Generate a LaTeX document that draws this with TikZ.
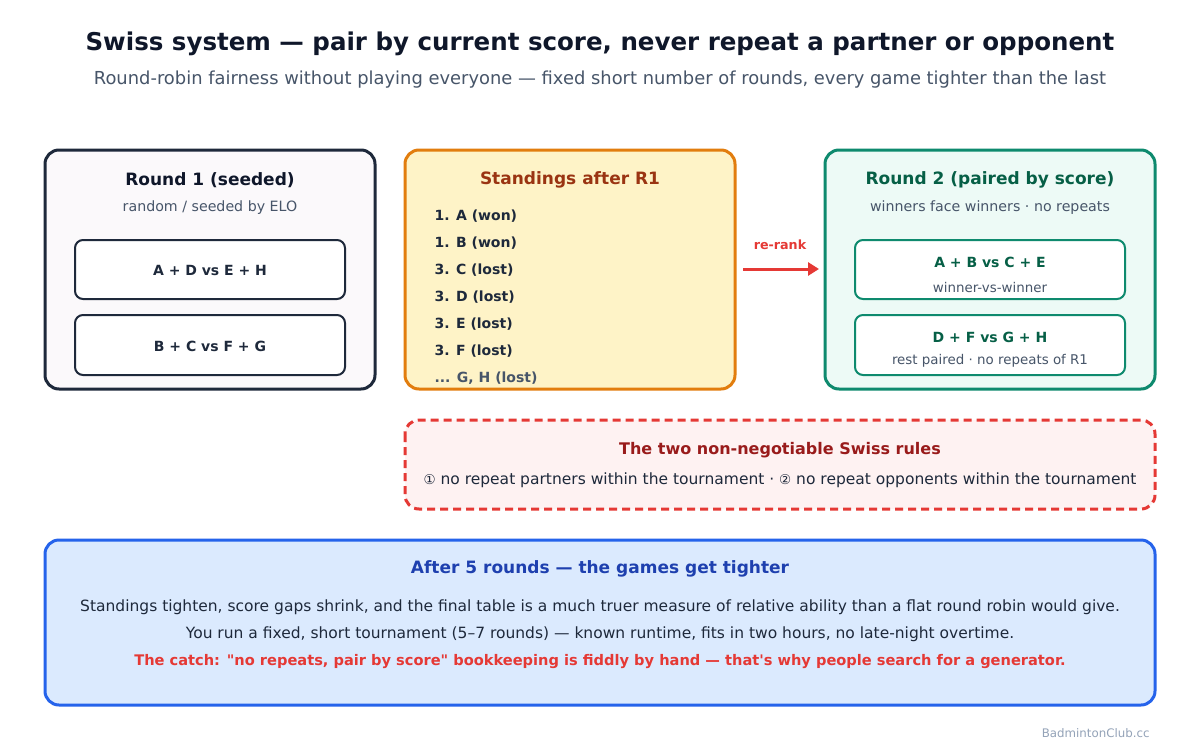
\documentclass[tikz,border=0pt]{standalone}
\usepackage{fontspec}
\setmainfont{DejaVu Sans}
\usetikzlibrary{arrows.meta}
\newcommand\dq{{\XeTeXglyph\XeTeXcharglyph"22\relax}}
\newcommand\sq{{\XeTeXglyph\XeTeXcharglyph"27\relax}}
\definecolor{navy}{HTML}{0F172A}
\definecolor{ink}{HTML}{1E293B}
\definecolor{grey}{HTML}{475569}
\definecolor{boxafill}{HTML}{FBF9FB}
\definecolor{orng}{HTML}{E27D0E}
\definecolor{orngfill}{HTML}{FEF3C7}
\definecolor{brown}{HTML}{9A3412}
\definecolor{grn}{HTML}{0E8A6E}
\definecolor{grnfill}{HTML}{EDFAF6}
\definecolor{dgrn}{HTML}{065F46}
\definecolor{rd}{HTML}{E53935}
\definecolor{rdfill}{HTML}{FEF2F2}
\definecolor{drd}{HTML}{991B1B}
\definecolor{blu}{HTML}{2563EB}
\definecolor{blufill}{HTML}{DBEAFE}
\definecolor{dblu}{HTML}{1E40AF}
\definecolor{foot}{HTML}{94A3B8}
\tikzset{
  outer/.style={rounded corners=14pt, line width=3pt},
  inner/.style={rounded corners=8pt, line width=2pt, fill=white},
  ttl/.style={font=\bfseries\fontsize{17}{21}\selectfont, anchor=center},
  sub/.style={font=\fontsize{14.2}{17}\selectfont, text=grey, anchor=center},
  pair/.style={font=\bfseries\fontsize{14}{17}\selectfont, anchor=center},
  note/.style={font=\fontsize{13.4}{16}\selectfont, text=grey, anchor=center},
  item/.style={font=\bfseries\fontsize{14}{17}\selectfont, text=ink, anchor=west},
  body/.style={font=\fontsize{15.5}{18}\selectfont, text=ink, anchor=center},
}
\begin{document}
\begin{tikzpicture}[x=1pt,y=-1pt]
\useasboundingbox (0,0) rectangle (1200,750);
\fill[white] (0,0) rectangle (1200,750);
% title
\node[font=\bfseries\fontsize{24.5}{30}\selectfont, text=navy] (title) at (600,44) {Swiss system — pair by current score, never repeat a partner or opponent};
\node[font=\fontsize{17.9}{22}\selectfont, text=grey] (subtitle) at (600,80) {Round-robin fairness without playing everyone — fixed short number of rounds, every game tighter than the last};
% box 1
\draw[outer, draw=ink, fill=boxafill] (45,150) rectangle (375,389);
\node[ttl, text=navy] (r1t) at (210,180) {Round 1 (seeded)};
\node[sub] (r1s) at (210,208) {random / seeded by ELO};
\draw[inner, draw=ink] (75,240) rectangle (345,299);
\node[pair, text=ink] (m1) at (210,270) {A + D vs E + H};
\draw[inner, draw=ink] (75,315) rectangle (345,375);
\node[pair, text=ink] (m2) at (210,346) {B + C vs F + G};
% box 2
\draw[outer, draw=orng, fill=orngfill] (405,150) rectangle (735,389);
\node[ttl, text=brown] (st) at (570,180) {Standings after R1};
\node[item] (s1) at (431,216) {1. A (won)};
\node[item] (s2) at (431,243) {1. B (won)};
\node[item] (s3) at (431,270) {3. C (lost)};
\node[item] (s4) at (431,297) {3. D (lost)};
\node[item] (s5) at (431,324) {3. E (lost)};
\node[item] (s6) at (431,351) {3. F (lost)};
\node[item, text=grey] (s7) at (431,378) {... G, H (lost)};
% arrow
\coordinate (aS) at (743,269);
\coordinate (aE) at (819,269);
\draw[rd, line width=3pt, -{Triangle[length=11pt,width=13pt]}] (aS) -- (aE);
\node[font=\bfseries\fontsize{12.7}{15}\selectfont, text=rd] (rr) at (780,245) {re-rank};
% box 3
\draw[outer, draw=grn, fill=grnfill] (825,150) rectangle (1155,389);
\node[ttl, text=dgrn] (r2t) at (990,180) {Round 2 (paired by score)};
\node[sub] (r2s) at (990,208) {winners face winners · no repeats};
\draw[inner, draw=grn] (855,240) rectangle (1125,299);
\node[pair, text=dgrn] (n1) at (990,262) {A + B vs C + E};
\node[note] (n1s) at (990,287) {winner-vs-winner};
\draw[inner, draw=grn] (855,315) rectangle (1125,375);
\node[pair, text=dgrn] (n2) at (990,337) {D + F vs G + H};
\node[note] (n2s) at (990,361) {rest paired · no repeats of R1};
% rules
\draw[rounded corners=14pt, line width=3pt, draw=rd, fill=rdfill, dash pattern=on 8pt off 5pt] (405,420) rectangle (1155,509);
\node[font=\bfseries\fontsize{16}{20}\selectfont, text=drd] (rt) at (780,450) {The two non-negotiable Swiss rules};
\node[body] (rl) at (780,480) {{\fontsize{13.5}{16}\selectfont ①} no repeat partners within the tournament · {\fontsize{13.5}{16}\selectfont ②} no repeat opponents within the tournament};
% bottom
\draw[outer, draw=blu, fill=blufill] (45,540) rectangle (1155,705);
\node[ttl, text=dblu] (bt) at (600,569) {After 5 rounds — the games get tighter};
\node[body] (b1) at (600,607) {Standings tighten, score gaps shrink, and the final table is a much truer measure of relative ability than a flat round robin would give.};
\node[body] (b2) at (600,634) {You run a fixed, short tournament (5–7 rounds) — known runtime, fits in two hours, no late-night overtime.};
\node[body, font=\bfseries\fontsize{14.6}{17}\selectfont, text=rd] (b3) at (600,662) {The catch: \dq no repeats, pair by score\dq\ bookkeeping is fiddly by hand — that\sq s why people search for a generator.};
\node[font=\fontsize{11.8}{14}\selectfont, text=foot, anchor=east] (ft) at (1153,733) {BadmintonClub.cc};
\end{tikzpicture}
\end{document}
